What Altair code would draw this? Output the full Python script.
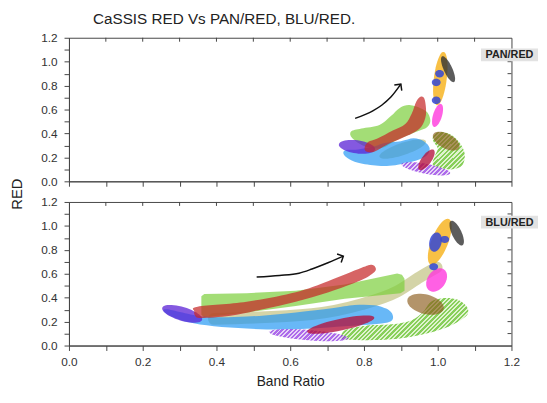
import altair as alt
import numpy as np
import pandas as pd

# ---------------- values ----------------
tick_values = [0.0, 0.1, 0.2, 0.3, 0.4, 0.5, 0.6, 0.7, 0.8, 0.9, 1.0, 1.1, 1.2]
inner_ticks = [0.1, 0.2, 0.3, 0.4, 0.5, 0.6, 0.7, 0.8, 0.9, 1.0, 1.1]
panel_names = ["PAN/RED", "BLU/RED"]

# ---- PAN/RED panel (polygons: x list, y list) ----
pan_green_x = [0.765, 0.793, 0.842, 0.873, 0.898, 0.927, 0.967, 0.980, 0.971, 0.944, 0.891, 0.847, 0.802, 0.768]
pan_green_y = [0.416, 0.441, 0.471, 0.545, 0.616, 0.636, 0.589, 0.512, 0.452, 0.416, 0.348, 0.279, 0.293, 0.362]
pan_red_x = [0.802, 0.812, 0.835, 0.878, 0.912, 0.930, 0.942, 0.955, 0.965, 0.968, 0.955, 0.930, 0.905, 0.866, 0.828, 0.806]
pan_red_y = [0.285, 0.330, 0.355, 0.425, 0.480, 0.570, 0.668, 0.708, 0.680, 0.555, 0.455, 0.400, 0.365, 0.312, 0.248, 0.250]
pan_blue_x = [0.744, 0.752, 0.784, 0.829, 0.856, 0.900, 0.935, 0.962, 0.978, 0.970, 0.940, 0.885, 0.838, 0.784, 0.755]
pan_blue_y = [0.235, 0.262, 0.266, 0.293, 0.321, 0.336, 0.360, 0.335, 0.278, 0.215, 0.172, 0.135, 0.130, 0.155, 0.195]
pan_greenh_x = [0.987, 1.000, 1.031, 1.058, 1.073, 1.067, 1.040, 1.009, 0.987, 0.991, 1.000, 0.989]
pan_greenh_y = [0.370, 0.411, 0.397, 0.329, 0.233, 0.137, 0.101, 0.109, 0.137, 0.205, 0.274, 0.329]
# ellipses: centre x, centre y, end of major axis x, y, minor/major ratio
pan_khaki = (0.905, 0.270, 0.968, 0.335, 0.25)
pan_purple = (0.781, 0.288, 0.830, 0.267, 0.36)
pan_crimson = (0.9695, 0.180, 0.989, 0.263, 0.40)
pan_purpleh = (0.968, 0.105, 1.034, 0.067, 0.20)
pan_brown = (1.023, 0.336, 1.058, 0.278, 0.50)
pan_magenta = (0.9995, 0.551, 1.009, 0.647, 0.37)
pan_orange = (1.007, 0.859, 1.016, 1.082, 0.24)
pan_gray = (1.028, 0.9375, 1.012, 1.045, 0.30)
pan_dots = [(1.005, 0.900, 1.017, 0.900, 0.85),
            (0.996, 0.827, 1.008, 0.827, 0.85),
            (0.996, 0.677, 1.008, 0.677, 0.85)]
pan_arrow_x = [0.776, 0.824, 0.848, 0.873, 0.900]
pan_arrow_y = [0.526, 0.589, 0.636, 0.704, 0.812]

# ---- BLU/RED panel ----
blu_khaki_x = [0.393, 0.659, 0.792, 0.890, 0.952, 0.997]
blu_khaki_y = [0.223, 0.263, 0.344, 0.452, 0.573, 0.653]
blu_green_x = [0.359, 0.367, 0.482, 0.615, 0.748, 0.890, 0.903, 0.910, 0.910, 0.899, 0.748, 0.615, 0.482, 0.367, 0.359]
blu_green_y = [0.411, 0.430, 0.438, 0.457, 0.511, 0.602, 0.591, 0.559, 0.457, 0.438, 0.392, 0.331, 0.277, 0.237, 0.258]
blu_red_x = [0.340, 0.349, 0.482, 0.615, 0.704, 0.792, 0.821, 0.832, 0.826, 0.792, 0.704, 0.615, 0.526, 0.438, 0.358, 0.342]
blu_red_y = [0.285, 0.325, 0.366, 0.446, 0.540, 0.648, 0.675, 0.645, 0.608, 0.546, 0.446, 0.366, 0.304, 0.250, 0.231, 0.250]
blu_blue_x = [0.264, 0.367, 0.482, 0.615, 0.713, 0.775, 0.828, 0.868, 0.879, 0.868, 0.828, 0.748, 0.659, 0.571, 0.482, 0.393, 0.322, 0.269]
blu_blue_y = [0.304, 0.242, 0.242, 0.277, 0.312, 0.339, 0.336, 0.296, 0.237, 0.196, 0.177, 0.161, 0.142, 0.134, 0.142, 0.161, 0.196, 0.258]
blu_greenh_x = [0.738, 0.751, 0.805, 0.876, 0.929, 0.960, 0.982, 1.018, 1.053, 1.078, 1.082, 1.062, 1.018, 0.956, 0.885, 0.805, 0.751]
blu_greenh_y = [0.070, 0.131, 0.166, 0.177, 0.212, 0.280, 0.367, 0.397, 0.384, 0.329, 0.267, 0.212, 0.144, 0.090, 0.055, 0.045, 0.050]
blu_purple = (0.307, 0.265, 0.361, 0.215, 0.33)
blu_crimson = (0.737, 0.175, 0.828, 0.235, 0.17)
blu_purpleh = (0.650, 0.087, 0.758, 0.060, 0.13)
blu_brown = (0.967, 0.345, 1.016, 0.305, 0.52)
blu_magenta = (0.997, 0.548, 1.017, 0.636, 0.70)
blu_orange = (1.0055, 0.867, 1.030, 1.058, 0.34)
blu_gray = (1.0515, 0.940, 1.036, 1.042, 0.36)
blu_dots = [(0.994, 0.865, 1.000, 0.945, 0.62),
            (1.019, 0.887, 1.031, 0.887, 0.80),
            (0.989, 0.659, 1.001, 0.659, 0.80)]
blu_arrow_x = [0.509, 0.571, 0.624, 0.659, 0.704, 0.744]
blu_arrow_y = [0.573, 0.586, 0.605, 0.640, 0.694, 0.747]

# ---------------- styling ----------------
W, H = 450, 146
KX, KY = W / 1.2, H / 1.2
FONT = "Liberation Sans"
INK = "#222222"
AX = "#444444"
COL = {
    "green": ("#7ccf3c", 0.70), "red": ("#c62828", 0.72), "blue": ("#2196f3", 0.68),
    "purple": ("#5b22d6", 0.75), "khaki": ("#c5c58a", 0.75), "crimson": ("#b3123c", 0.78),
    "magenta": ("#ff33dd", 0.78), "orange": ("#f6b21c", 0.82), "gray": ("#333333", 0.80),
    "dot": ("#3347d6", 0.85), "brown": ("#8a5a1a", 0.65), "greenh": ("#5fbf22", 0.75),
    "purpleh": ("#8a2be2", 0.70),
}
HATCH_LIGHT = {"greenh": "#d4efbf", "purpleh": "#dcc4f2"}
XS = alt.Scale(domain=[0, 1.2], nice=False, zero=False)
YS = alt.Scale(domain=[0, 1.2], nice=False, zero=False)
LBL = "round(datum.value * 10) % 2 == 0 ? format(datum.value, '.1f') : ''"


def make_axes(show_x_labels):
    xaxis = alt.Axis(
        values=tick_values, labels=show_x_labels, labelExpr=LBL, tickSize=5, labelPadding=6,
        labelOverlap=False, labelFlush=False, grid=False,
        title="Band Ratio" if show_x_labels else None,
        titleFontSize=14, titleFontWeight="normal", titleColor=INK, titleFont=FONT, titlePadding=8,
    )
    yaxis = alt.Axis(
        values=tick_values, labelExpr=LBL, tickSize=5, labelPadding=7, labelOverlap=False,
        labelFlush=False, grid=False, title=None,
    )
    return xaxis, yaxis


def poly_df(xs, ys):
    return pd.DataFrame({"x": xs, "y": ys, "k": list(range(len(xs)))})


def ell_df(p, n=48):
    cx, cy, ex, ey, r = p
    mx, my = (ex - cx) * KX, (ey - cy) * KY
    nx, ny = -my * r, mx * r
    t = np.linspace(0, 2 * np.pi, n, endpoint=False)
    px = np.cos(t) * mx + np.sin(t) * nx
    py = np.cos(t) * my + np.sin(t) * ny
    return pd.DataFrame({"x": cx + px / KX, "y": cy + py / KY, "k": np.arange(n)})


def xy(ax):
    return dict(x=alt.X("x:Q", scale=XS, axis=ax[0]), y=alt.Y("y:Q", scale=YS, axis=ax[1]))


def hatch(df, dark, light, pitch=3.2, frac=0.55):
    """Diagonal stripe fill (////) built as a hard-stop linear gradient."""
    w = max((df["x"].max() - df["x"].min()) * KX, 1.0)
    h = max((df["y"].max() - df["y"].min()) * KY, 1.0)
    s = (w + h) / (w * w + h * h)
    n = max(int(round((w + h) / np.sqrt(2) / pitch)), 2)
    stops = []
    for i in range(n):
        a, b, c = i / n, (i + frac) / n, (i + 1) / n
        stops += [alt.GradientStop(color=dark, offset=a), alt.GradientStop(color=dark, offset=b),
                  alt.GradientStop(color=light, offset=b), alt.GradientStop(color=light, offset=c)]
    return alt.LinearGradient(gradient="linear", stops=stops, x1=0, y1=0, x2=w * s, y2=h * s)


def fill_layer(df, key, interp, ax):
    c, op = COL[key]
    fill = hatch(df, c, HATCH_LIGHT[key]) if key in HATCH_LIGHT else c
    return alt.Chart(df).mark_line(
        interpolate=interp, fill=fill, fillOpacity=op, strokeOpacity=0, strokeWidth=0
    ).encode(order=alt.Order("k:Q"), **xy(ax))


def arrow(xs, ys, angle, ax):
    df = poly_df(xs, ys)
    line = alt.Chart(df).mark_line(color="#111111", strokeWidth=1.5, interpolate="monotone").encode(
        order="k:Q", **xy(ax))
    head = alt.Chart(df.tail(1)).mark_point(
        shape="M-1,1L0,0L1,1", size=90, filled=False, stroke="#111111", strokeWidth=1.5,
        opacity=1, angle=angle
    ).encode(**xy(ax))
    return [line, head]


def frame_layers(name, box_y, ax):
    ticks = pd.DataFrame({"v": inner_ticks})
    top_ticks = alt.Chart(ticks).mark_rule(color=AX, strokeWidth=1).encode(
        x=alt.X("v:Q", scale=XS, axis=ax[0]), y=alt.value(0), y2=alt.value(4))
    right_ticks = alt.Chart(ticks).mark_rule(color=AX, strokeWidth=1).encode(
        y=alt.Y("v:Q", scale=YS, axis=ax[1]), x=alt.value(W), x2=alt.value(W - 4))
    lab = pd.DataFrame({"t": [name]})
    box = alt.Chart(lab).mark_rect(color="#e2e2e2").encode(
        x=alt.value(419), x2=alt.value(477), y=alt.value(box_y), y2=alt.value(box_y + 13))
    txt = alt.Chart(lab).mark_text(font=FONT, fontSize=11, fontWeight="bold", color=INK,
                                   baseline="middle", align="center").encode(
        text="t:N", x=alt.value(448), y=alt.value(box_y + 7))
    return [top_ticks, right_ticks, box, txt]


def panel(d, name, box_y, show_x_labels, arrow_angle):
    ax = make_axes(show_x_labels)
    layers = []
    if "khaki_band" in d:
        xs, ys = d["khaki_band"]
        layers.append(alt.Chart(poly_df(xs, ys)).mark_line(
            color=COL["khaki"][0], opacity=COL["khaki"][1], strokeWidth=12, strokeCap="round",
            interpolate="monotone").encode(order="k:Q", **xy(ax)))
    for key, kind, val, interp in d["shapes"]:
        if kind == "poly":
            layers.append(fill_layer(poly_df(*val), key, interp, ax))
        else:
            layers.append(fill_layer(ell_df(val), key, "linear-closed", ax))
    layers += arrow(d["arrow"][0], d["arrow"][1], arrow_angle, ax)
    layers += frame_layers(name, box_y, ax)
    return layers


pan = {
    "shapes": [
        ("green", "poly", (pan_green_x, pan_green_y), "cardinal-closed"),
        ("khaki", "ell", pan_khaki, None),
        ("blue", "poly", (pan_blue_x, pan_blue_y), "cardinal-closed"),
        ("purple", "ell", pan_purple, None),
        ("red", "poly", (pan_red_x, pan_red_y), "cardinal-closed"),
        ("greenh", "poly", (pan_greenh_x, pan_greenh_y), "cardinal-closed"),
        ("brown", "ell", pan_brown, None),
        ("purpleh", "ell", pan_purpleh, None),
        ("crimson", "ell", pan_crimson, None),
        ("magenta", "ell", pan_magenta, None),
        ("orange", "ell", pan_orange, None),
        ("gray", "ell", pan_gray, None),
    ] + [("dot", "ell", p, None) for p in pan_dots],
    "arrow": (pan_arrow_x, pan_arrow_y),
}
blu = {
    "khaki_band": (blu_khaki_x, blu_khaki_y),
    "shapes": [
        ("green", "poly", (blu_green_x, blu_green_y), "linear-closed"),
        ("blue", "poly", (blu_blue_x, blu_blue_y), "cardinal-closed"),
        ("purple", "ell", blu_purple, None),
        ("red", "poly", (blu_red_x, blu_red_y), "cardinal-closed"),
        ("greenh", "poly", (blu_greenh_x, blu_greenh_y), "cardinal-closed"),
        ("brown", "ell", blu_brown, None),
        ("purpleh", "ell", blu_purpleh, None),
        ("crimson", "ell", blu_crimson, None),
        ("magenta", "ell", blu_magenta, None),
        ("orange", "ell", blu_orange, None),
        ("gray", "ell", blu_gray, None),
    ] + [("dot", "ell", p, None) for p in blu_dots],
    "arrow": (blu_arrow_x, blu_arrow_y),
}

top_layers = panel(pan, panel_names[0], 11, False, 37)
red_title = alt.Chart(pd.DataFrame({"t": ["RED"]})).mark_text(
    font=FONT, fontSize=15, color=INK, angle=270, baseline="middle", align="center"
).encode(text="t:N", x=alt.value(-53), y=alt.value(H + 13))
top_layers.append(red_title)
bottom_layers = panel(blu, panel_names[1], 14, True, 64)

top = alt.layer(*top_layers).properties(width=W, height=H)
bottom = alt.layer(*bottom_layers).properties(width=W, height=H)

chart = alt.vconcat(top, bottom, spacing=21, bounds="flush").properties(
    title=alt.TitleParams("CaSSIS RED Vs PAN/RED, BLU/RED.", anchor="start", fontSize=15.5,
                          font=FONT, fontWeight="normal", color=INK, dx=85, offset=4),
    padding={"left": 1, "top": 1, "right": 0, "bottom": 0},
).configure_view(stroke=AX, strokeWidth=1).configure_axis(
    domainColor=AX, tickColor=AX, labelFont=FONT, labelFontSize=12, labelColor="#333333",
    domainWidth=1, tickWidth=1,
)

chart.save("out.html", embed_options={"renderer": "svg", "actions": False})
